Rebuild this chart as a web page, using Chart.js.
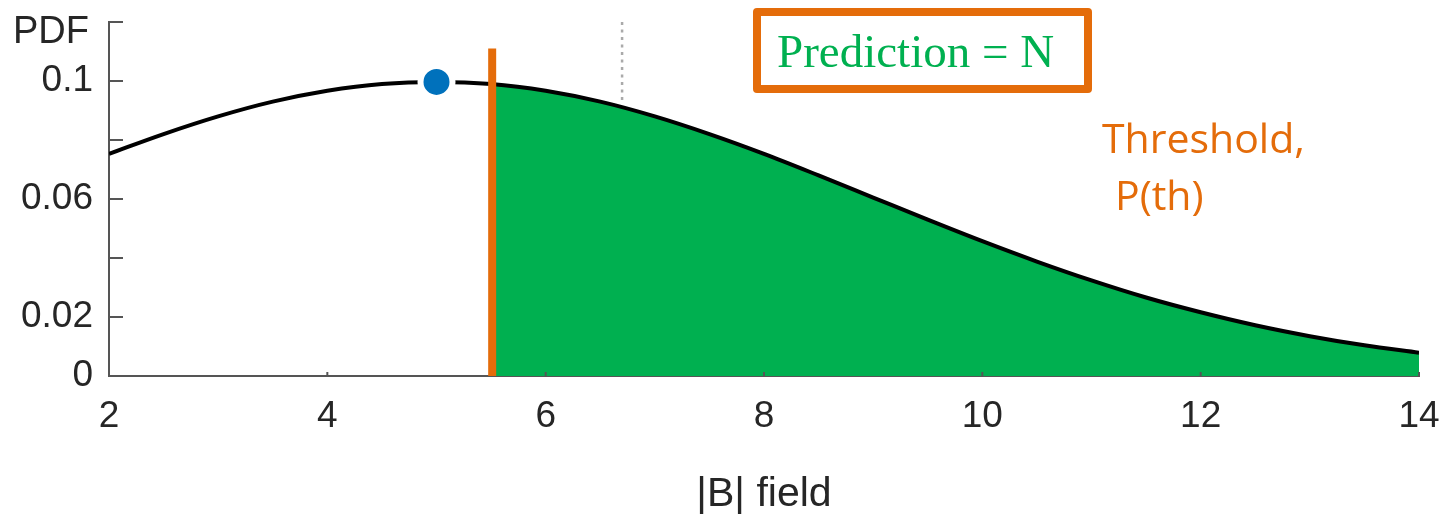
<!DOCTYPE html>
<html>
<head>
<meta charset="utf-8">
<script src="https://cdn.jsdelivr.net/npm/chart.js@4.4.1/dist/chart.umd.min.js"></script>
<style>
  html, body { margin: 0; padding: 0; background: #fff; }
  #wrap { width: 1451px; height: 515px; position: relative; }
</style>
</head>
<body>
<div id="wrap"><canvas id="c"></canvas></div>
<script>
  // PDF curve
  const curveX = [2, 2.5, 3, 3.5, 4, 4.5, 5, 5.5, 6, 6.5, 7, 7.5, 8, 8.5, 9, 9.5, 10, 10.5, 11, 11.5, 12, 12.5, 13, 13.5, 14];
  const curveY = [0.0753, 0.0820, 0.0880, 0.0930, 0.0967, 0.0990, 0.0997, 0.0990, 0.0967, 0.0930, 0.0880, 0.0820, 0.0753,
    0.0680, 0.0605, 0.0530, 0.0457, 0.0388, 0.0324, 0.0266, 0.0216, 0.0172, 0.0135, 0.0104, 0.0079];

  // shaded tail above the threshold
  const fillX = [5.53, 6, 6.5, 7, 7.5, 8, 8.5, 9, 9.5, 10, 10.5, 11, 11.5, 12, 12.5, 13, 13.5, 14];
  const fillY = [0.0986, 0.0967, 0.0930, 0.0880, 0.0820, 0.0753, 0.0680, 0.0605, 0.0530, 0.0457, 0.0388, 0.0324,
    0.0266, 0.0216, 0.0172, 0.0135, 0.0104, 0.0079];

  const thresholdX = [5.51, 5.51];
  const thresholdY = [0, 0.111];
  const dottedX = [6.7, 6.7];
  const dottedY = [0.12, 0.092];
  const peakX = [5];
  const peakY = [0.0997];

  const xTicks = [2, 4, 6, 8, 10, 12, 14];
  const yTicks = [0, 0.02, 0.04, 0.06, 0.08, 0.1, 0.12];
  const yTickLabels = ["0", "0.02", "", "0.06", "", "0.1", ""];

  const ORANGE = "#e46c0a";
  const GREEN = "#00b050";
  const AXIS = "#555555";
  const TEXT = "#262626";

  const pts = (xs, ys) => xs.map((x, i) => ({ x, y: ys[i] }));

  // inward ticks + text annotations
  const extras = {
    id: "extras",
    afterDraw(chart) {
      const { ctx, scales } = chart;
      const xs = scales.x, ys = scales.y;
      ctx.save();
      ctx.strokeStyle = AXIS;
      ctx.lineWidth = 2;
      yTicks.forEach((v) => {
        const py = Math.round(ys.getPixelForValue(v));
        ctx.beginPath();
        ctx.moveTo(xs.left, py);
        ctx.lineTo(xs.left + 14, py);
        ctx.stroke();
      });
      xTicks.forEach((v) => {
        const px = xs.getPixelForValue(v);
        ctx.beginPath();
        ctx.moveTo(px, ys.bottom);
        ctx.lineTo(px, ys.bottom - 4);
        ctx.stroke();
      });

      ctx.fillStyle = TEXT;
      ctx.font = "38px 'Liberation Sans', Arial, sans-serif";
      ctx.textBaseline = "alphabetic";
      ctx.textAlign = "left";
      ctx.fillText("PDF", 13, 43);

      // prediction box
      ctx.strokeStyle = ORANGE;
      ctx.lineWidth = 8;
      ctx.lineJoin = "round";
      ctx.strokeRect(757, 12, 331, 77);
      ctx.fillStyle = GREEN;
      ctx.font = "47px 'Liberation Serif', 'Times New Roman', serif";
      ctx.fillText("Prediction = N", 777, 67);

      ctx.fillStyle = ORANGE;
      ctx.font = "41px 'Open Sans', sans-serif";
      ctx.fillText("Threshold,", 1102, 153);
      ctx.fillText("P(th)", 1115, 210);
      ctx.restore();
    },
  };

  new Chart(document.getElementById("c"), {
    type: "scatter",
    data: {
      datasets: [
        {
          data: pts(peakX, peakY),
          pointRadius: 16,
          pointBackgroundColor: "#0071bc",
          pointBorderColor: "#ffffff",
          pointBorderWidth: 6,
          showLine: false,
          order: 0,
          clip: false,
        },
        {
          data: pts(thresholdX, thresholdY),
          showLine: true,
          borderColor: ORANGE,
          borderWidth: 8,
          pointRadius: 0,
          order: 1,
        },
        {
          data: pts(curveX, curveY),
          showLine: true,
          borderColor: "#000000",
          borderWidth: 4,
          pointRadius: 0,
          cubicInterpolationMode: "monotone",
          order: 2,
        },
        {
          data: pts(dottedX, dottedY),
          showLine: true,
          borderColor: "#aaaaaa",
          borderWidth: 2.5,
          borderDash: [3, 4.5],
          pointRadius: 0,
          order: 3,
        },
        {
          data: pts(fillX, fillY),
          showLine: true,
          borderWidth: 0,
          borderColor: GREEN,
          backgroundColor: GREEN,
          fill: "origin",
          pointRadius: 0,
          cubicInterpolationMode: "monotone",
          order: 4,
        },
      ],
    },
    options: {
      responsive: true,
      maintainAspectRatio: false,
      animation: false,
      layout: { padding: { top: 19, right: 32, left: 0, bottom: 0 } },
      plugins: { legend: { display: false }, tooltip: { enabled: false } },
      scales: {
        x: {
          type: "linear",
          min: 2,
          max: 14,
          afterFit: (s) => { s.height = 139; s.paddingLeft = 0; s.paddingRight = 0; },
          afterBuildTicks: (s) => { s.ticks = xTicks.map((v) => ({ value: v })); },
          grid: { display: true, drawOnChartArea: false, drawTicks: false },
          border: { display: true, color: AXIS, width: 2 },
          ticks: {
            padding: 19,
            color: TEXT,
            font: { family: "'Liberation Sans', Arial, sans-serif", size: 37 },
            maxRotation: 0,
          },
          title: {
            display: true,
            text: "|B| field",
            color: TEXT,
            font: { family: "'Liberation Sans', Arial, sans-serif", size: 41, lineHeight: 1 },
            padding: { top: 0, bottom: 0 },
          },
        },
        y: {
          min: 0,
          max: 0.12,
          afterFit: (s) => { s.width = 109; s.paddingTop = 0; s.paddingBottom = 0; },
          afterBuildTicks: (s) => { s.ticks = yTicks.map((v) => ({ value: v })); },
          grid: { display: true, drawOnChartArea: false, drawTicks: false },
          border: { display: true, color: AXIS, width: 2 },
          ticks: {
            padding: 16,
            color: TEXT,
            font: { family: "'Liberation Sans', Arial, sans-serif", size: 37 },
            callback: (v, i) => yTickLabels[i],
          },
        },
      },
    },
    plugins: [extras],
  });
</script>
</body>
</html>
